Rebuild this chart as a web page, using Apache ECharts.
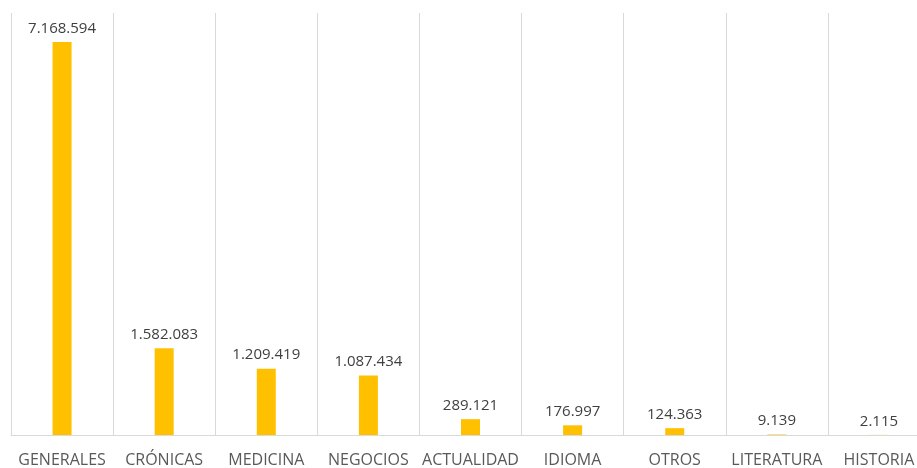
<!DOCTYPE html>
<html><head><meta charset="utf-8">
<script src="https://cdn.jsdelivr.net/npm/echarts@6/dist/echarts.min.js"></script>
<style>html,body{margin:0;padding:0;background:#fff;overflow:hidden;width:917px;height:468px}#c{position:absolute;left:0;top:0;width:930px;height:468px}</style>
</head><body><div id="c"></div>
<script>
const categories = ["GENERALES","CRÓNICAS","MEDICINA","NEGOCIOS","ACTUALIDAD","IDIOMA","OTROS","LITERATURA","HISTORIA"];
const values = [7168594,1582083,1209419,1087434,289121,176997,124363,9139,2115];

function fmt(n){return String(n).replace(/\B(?=(\d{3})+(?!\d))/g,'.');}

const chart = echarts.init(document.getElementById('c'));
chart.setOption({
  animation:false,
  backgroundColor:'#fff',
  grid:{left:11, top:13, right:0, height:424.5, containLabel:false},
  xAxis:{
    type:'category', data:categories, boundaryGap:true,
    axisLine:{show:true, lineStyle:{color:'#d9d9d9', width:1}},
    axisTick:{show:false},
    splitLine:{show:true, lineStyle:{color:'#d9d9d9', width:1}},
    axisLabel:{color:'#595959', fontFamily:'Open Sans', fontSize:16, margin:17, interval:0}
  },
  yAxis:{type:'value', min:0, max:7700000, show:false, splitLine:{show:false}},
  series:[{
    type:'bar', data:values, barWidth:19,
    itemStyle:{color:'#ffc000'},
    label:{show:true, position:'top', distance:6, color:'#404040', fontFamily:'Open Sans', fontSize:15,
      formatter:p=>fmt(p.value)}
  }]
});
</script></body></html>
